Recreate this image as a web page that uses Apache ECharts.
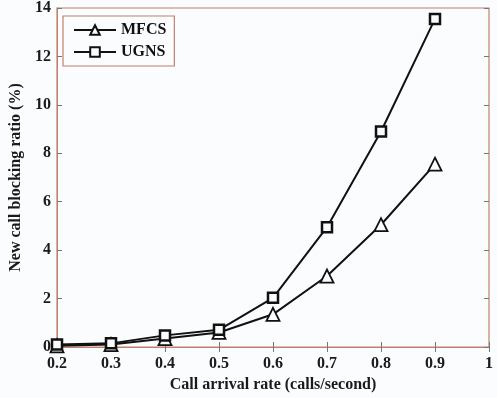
<!DOCTYPE html>
<html>
<head>
  <meta charset="utf-8">
  <title>ECharts</title>
  <script src="https://cdn.jsdelivr.net/npm/echarts@6/dist/echarts.min.js"></script>
</head>
<body style="margin:0;background:#fff;">
<div id="main" style="width: 497px;height:398px;"></div>
<script type="text/javascript">
  // data
  var rates = [0.2, 0.3, 0.4, 0.5, 0.6, 0.7, 0.8, 0.9];
  var mfcs = [0.05, 0.1, 0.35, 0.6, 1.35, 2.93, 5.05, 7.55];
  var ugns = [0.1, 0.15, 0.48, 0.71, 2.03, 4.95, 8.9, 13.55];

  var frame = '#c08070';
  var font = '"Liberation Serif", "DejaVu Serif", serif';

  function pairs(ys) {
    return rates.map(function (x, i) { return [x, ys[i]]; });
  }

  var myChart = echarts.init(document.getElementById('main'));

  var option = {
    backgroundColor: '#fbfcfd',
    animation: false,
    grid: {
      left: 55, right: 8, top: 5, bottom: 50,
      show: true, borderColor: frame, borderWidth: 1.2, backgroundColor: '#fbfcfd'
    },
    legend: {
      left: 63, top: 16, orient: 'vertical',
      padding: [6, 8, 6, 10], itemGap: 6,
      itemWidth: 42, itemHeight: 12,
      borderColor: frame, borderWidth: 1.2,
      textStyle: { fontFamily: font, fontWeight: 'bold', fontSize: 16, color: '#111' },
      data: ['MFCS', 'UGNS']
    },
    xAxis: [{
      type: 'value', min: 0.2, max: 1, interval: 0.1,
      name: 'Call arrival rate (calls/second)', nameLocation: 'middle', nameGap: 30,
      nameTextStyle: { fontFamily: font, fontWeight: 'bold', fontSize: 16, color: '#1a1a1a' },
      axisLine: { lineStyle: { color: frame } },
      axisTick: { inside: true, length: 5, lineStyle: { color: '#777' } },
      splitLine: { show: false },
      axisLabel: {
        fontFamily: font, fontWeight: 'bold', fontSize: 16, color: '#1a1a1a', margin: 9,
        formatter: function (v) { return v === 1 ? '1' : v.toFixed(1); }
      }
    }, {
      type: 'value', min: 0.2, max: 1, interval: 0.1, position: 'top',
      axisLine: { show: false },
      axisTick: { inside: true, length: 5, lineStyle: { color: '#777' } },
      axisLabel: { show: false }, splitLine: { show: false }
    }],
    yAxis: [{
      type: 'value', min: 0, max: 14, interval: 2,
      name: 'New call blocking ratio (%)', nameLocation: 'middle', nameGap: 33,
      nameTextStyle: { fontFamily: font, fontWeight: 'bold', fontSize: 16, color: '#1a1a1a' },
      axisLine: { show: true, lineStyle: { color: frame } },
      axisTick: { inside: true, length: 5, lineStyle: { color: '#777' } },
      splitLine: { show: false },
      axisLabel: { fontFamily: font, fontWeight: 'bold', fontSize: 16, color: '#1a1a1a', margin: 6 }
    }, {
      type: 'value', min: 0, max: 14, interval: 2, position: 'right',
      axisLine: { show: false },
      axisTick: { show: true, inside: true, length: 5, lineStyle: { color: '#777' } },
      axisLabel: { show: false }, splitLine: { show: false }
    }],
    series: [{
      name: 'MFCS', type: 'line', data: pairs(mfcs),
      symbol: 'triangle', symbolSize: 13,
      lineStyle: { color: '#111', width: 2 },
      itemStyle: { color: '#fbfcfd', borderColor: '#111', borderWidth: 1.8 }
    }, {
      name: 'UGNS', type: 'line', data: pairs(ugns),
      symbol: 'rect', symbolSize: 10,
      lineStyle: { color: '#111', width: 2 },
      itemStyle: { color: '#fbfcfd', borderColor: '#111', borderWidth: 2.5 }
    }]
  };

  myChart.setOption(option);
</script>
</body>
</html>
